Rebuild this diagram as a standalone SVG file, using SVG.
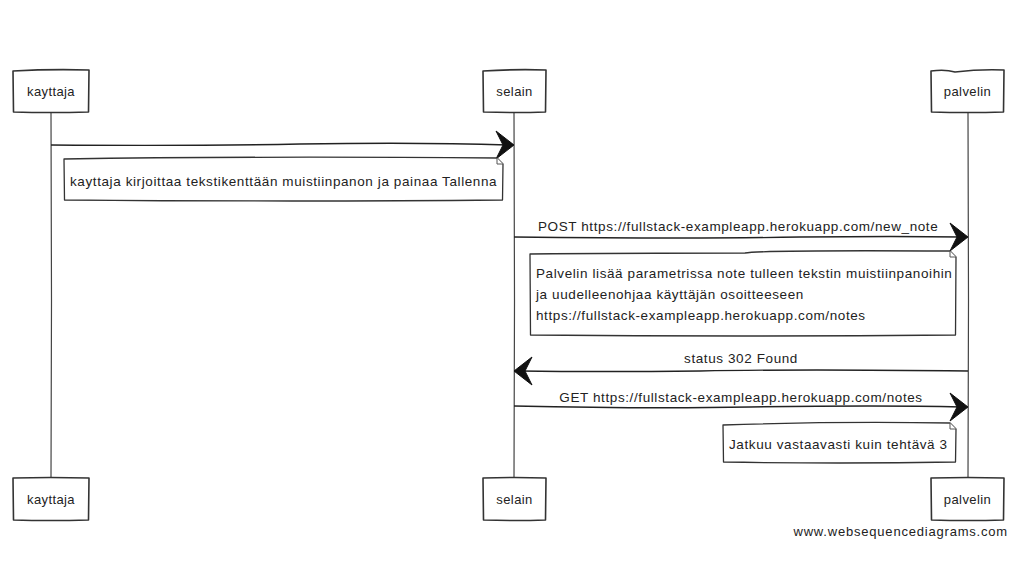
<svg xmlns="http://www.w3.org/2000/svg" width="1018" height="568" viewBox="0 0 1018 568">
<style>
.box{fill:#fff;stroke:#333;stroke-width:1.6;stroke-linejoin:round}
.life{fill:none;stroke:#444;stroke-width:1.2}
.msg{fill:none;stroke:#222;stroke-width:1.4}
.head{fill:#111;stroke:#111;stroke-width:1;stroke-linejoin:round}
.note{fill:#fff;stroke:#333;stroke-width:1.3;stroke-linejoin:round}
.ear{fill:#fff;stroke:#555;stroke-width:1}
text{font-family:"Liberation Sans",Arial,sans-serif;font-size:13.5px;letter-spacing:0.6px;fill:#222}
.c{text-anchor:middle}
.lbl{font-size:13px;letter-spacing:0.4px}
</style>
<rect width="1018" height="568" fill="#fff"/>
<g id="kayttaja">
<path class="life" d="M51 112 L51.5 300 L51 478"/>
<path class="box" d="M13 71 Q50 69 89 70 L88.5 112 Q50 113 13.5 112 Z"/>
<text class="c lbl" x="51" y="96">kayttaja</text>
<path class="box" d="M13 478 Q50 477 89 478 L88.5 520 Q50 521 13.5 520 Z"/>
<text class="c lbl" x="51" y="504">kayttaja</text>
</g>
<g id="selain">
<path class="life" d="M514 112 L514.5 300 L514 478"/>
<path class="box" d="M483 71 Q515 69 546 70 L545.5 112 Q515 113 483.5 112 Z"/>
<text class="c lbl" x="514.5" y="96">selain</text>
<path class="box" d="M483 478 Q515 477 546 478 L545.5 520 Q515 521 483.5 520 Z"/>
<text class="c lbl" x="514.5" y="504">selain</text>
</g>
<g id="palvelin">
<path class="life" d="M968 112 L968.5 300 L968 478"/>
<path class="box" d="M931 71 Q945 69 955 72 Q980 69 1004 70 L1003.5 112 Q968 113 931.5 112 Z"/>
<text class="c lbl" x="967.5" y="96">palvelin</text>
<path class="box" d="M931 478 Q968 477 1004 478 L1003.5 520 Q968 521 931.5 520 Z"/>
<text class="c lbl" x="967.5" y="504">palvelin</text>
</g>
<g id="connectors">
<path class="msg" d="M51 145 Q200 146 300 144 Q420 142 508 145"/>
<path class="head" d="M514 145 L496 131 L503 145 L496 159 Z"/>
<text x="538" y="231">POST https://fullstack-exampleapp.herokuapp.com/new_note</text>
<path class="msg" d="M514 237 Q700 239 800 237 Q900 236 962 237"/>
<path class="head" d="M968 237 L950 223 L957 237 L950 251 Z"/>
<text class="c" x="741" y="363">status 302 Found</text>
<path class="msg" d="M968 371 Q800 369 700 371 Q600 372 520 371"/>
<path class="head" d="M514 371 L532 357 L525 371 L532 385 Z"/>
<text class="c" x="741" y="402">GET https://fullstack-exampleapp.herokuapp.com/notes</text>
<path class="msg" d="M514 406 Q650 409 750 407 Q880 405 962 407"/>
<path class="head" d="M968 407 L950 393 L957 407 L950 421 Z"/>
</g>
<g id="note1">
<path class="note" d="M64 159 Q250 156 497 158 L503 164 L502.5 200 Q300 202 64.5 200 Z"/>
<path class="ear" d="M497 158 L497 164 L503 164"/>
<text x="70" y="186">kayttaja kirjoittaa tekstikenttään muistiinpanon ja painaa Tallenna</text>
</g>
<g id="note2">
<path class="note" d="M530 254 Q620 253 745 253 Q760 250 950 251 L956 257 L955.5 335 Q740 337 530.5 335 Z"/>
<path class="ear" d="M950 251 L950 257 L956 257"/>
<text x="536" y="278">Palvelin lisää parametrissa note tulleen tekstin muistiinpanoihin</text>
<text x="536" y="299">ja uudelleenohjaa käyttäjän osoitteeseen</text>
<text x="536" y="320">https://fullstack-exampleapp.herokuapp.com/notes</text>
</g>
<g id="note3">
<path class="note" d="M723 425 Q840 421 950 423 L956 429 L955.5 462 Q840 464 723.5 462 Z"/>
<path class="ear" d="M950 423 L950 429 L956 429"/>
<text x="729" y="449">Jatkuu vastaavasti kuin tehtävä 3</text>
</g>
<text x="1008" y="536" text-anchor="end" style="font-size:13px;letter-spacing:0.8px">www.websequencediagrams.com</text>
</svg>
